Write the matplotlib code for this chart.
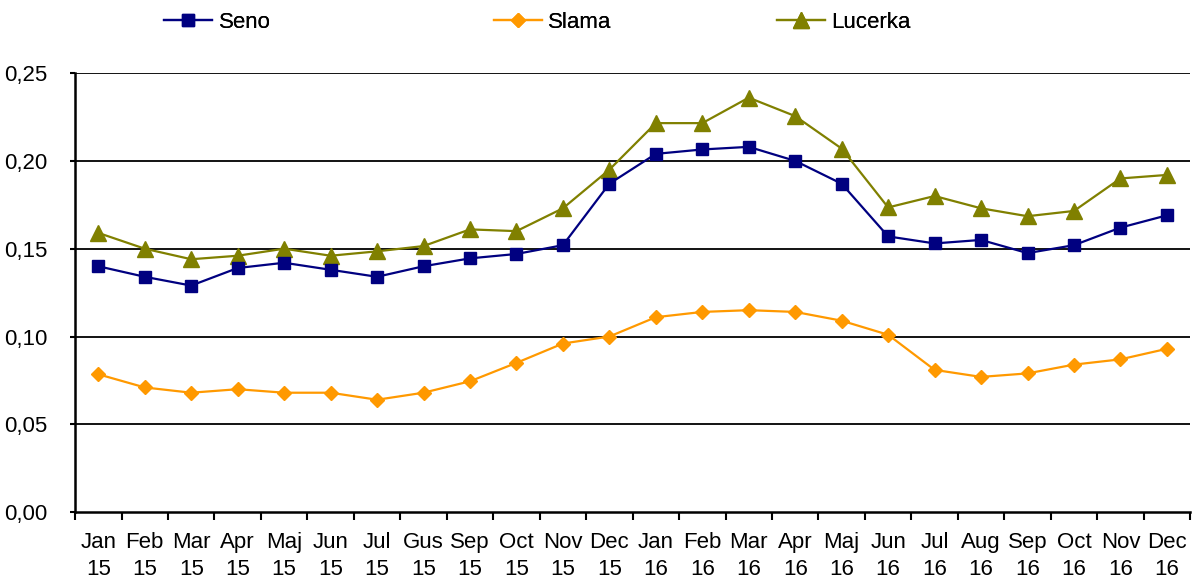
import numpy as np
import matplotlib.pyplot as plt

months = ["Jan", "Feb", "Mar", "Apr", "Maj", "Jun", "Jul", "Gus", "Sep", "Oct", "Nov", "Dec",
          "Jan", "Feb", "Mar", "Apr", "Maj", "Jun", "Jul", "Aug", "Sep", "Oct", "Nov", "Dec"]
years = ["15"] * 12 + ["16"] * 12

seno = [0.140, 0.134, 0.129, 0.139, 0.142, 0.138, 0.134, 0.140, 0.1445, 0.147, 0.152, 0.187,
        0.204, 0.2065, 0.208, 0.200, 0.187, 0.157, 0.153, 0.155, 0.1475, 0.152, 0.162, 0.169]
slama = [0.0785, 0.071, 0.068, 0.070, 0.068, 0.068, 0.064, 0.068, 0.0745, 0.085, 0.096, 0.100,
         0.111, 0.114, 0.115, 0.114, 0.109, 0.101, 0.081, 0.077, 0.079, 0.084, 0.087, 0.093]
lucerka = [0.159, 0.150, 0.144, 0.146, 0.150, 0.146, 0.1485, 0.1515, 0.161, 0.160, 0.173, 0.195,
           0.2215, 0.2215, 0.236, 0.2255, 0.207, 0.1735, 0.180, 0.173, 0.1685, 0.1715, 0.190, 0.192]

plt.rcParams['font.family'] = ['Liberation Sans', 'DejaVu Sans']
plt.rcParams['font.size'] = 15

fig = plt.figure(figsize=(11.99, 5.8), dpi=100)
ax = fig.add_axes([0.0626, 0.117, 0.93, 0.757])

x = np.arange(len(months))
l1, = ax.plot(x, seno, color='#000080', marker='s', markersize=8, lw=1.6, zorder=4)
l2, = ax.plot(x, slama, color='#FF9900', marker='D', markersize=7, lw=1.6, zorder=3)
l3, = ax.plot(x, lucerka, color='#808000', marker='^', markersize=11, lw=1.6, zorder=3)

ax.set_xlim(-0.5, len(months) - 0.5)
ax.set_ylim(0, 0.25)
yt = np.arange(0, 0.2501, 0.05)
ax.set_yticks(yt)
ax.set_yticklabels(["{:.2f}".format(v).replace(".", ",") for v in yt], fontsize=16)
for v in yt[1:]:
    ax.axhline(v, color='black', lw=1.3, zorder=1)

ax.set_xticks(np.arange(-0.5, len(months)), minor=False)
ax.set_xticklabels([])
ax.set_xticks(x, minor=True)
ax.set_xticklabels([m + "\n" + y for m, y in zip(months, years)], minor=True,
                   linespacing=1.4, fontsize=16)
ax.tick_params(axis='x', which='major', length=6, width=1.5, direction='out')
ax.tick_params(axis='x', which='minor', length=0, pad=14)
ax.tick_params(axis='y', length=3.6, width=1.5, pad=16)

ax.spines['top'].set_visible(False)
ax.spines['right'].set_visible(False)
ax.spines['left'].set_linewidth(1.8)
ax.spines['bottom'].set_linewidth(1.8)

# legend entries placed separately as in the original
entries = [(l1, "Seno", 0.137), (l2, "Slama", 0.412), (l3, "Lucerka", 0.648)]
for line, name, xpos in entries:
    leg = fig.legend([line], [name], loc='center left', bbox_to_anchor=(xpos, 0.962),
                     frameon=False, handlelength=2.15, handletextpad=0.3, borderaxespad=0,
                     borderpad=0, fontsize=16)
    fig.add_artist(leg)

fig.savefig("out.png", dpi=100)
